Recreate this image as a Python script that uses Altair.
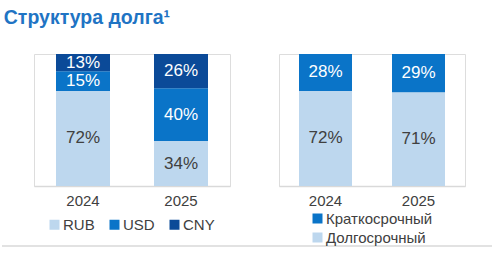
import altair as alt
import pandas as pd

years = ["2024", "2025"]
currencies = ["RUB", "USD", "CNY"]
rub = [72, 34]
usd = [15, 40]
cny = [13, 26]

terms = ["Краткосрочный", "Долгосрочный"]
short_term = [28, 29]
long_term = [72, 71]

title_text = "Структура долга¹"

LIGHT = "#bdd7ee"
MID = "#0a74c8"
DARK = "#0b4a98"
TXT = "#404040"
FONT = "Liberation Sans"

rows = []
for i, y in enumerate(years):
    for k, (c, vals) in enumerate(zip(currencies, [rub, usd, cny])):
        rows.append({"year": y, "cat": c, "val": vals[i], "ord": k})
df_cur = pd.DataFrame(rows)

rows2 = []
for i, y in enumerate(years):
    rows2.append({"year": y, "cat": terms[1], "val": long_term[i], "ord": 0})
    rows2.append({"year": y, "cat": terms[0], "val": short_term[i], "ord": 1})
df_term = pd.DataFrame(rows2)


def panel(df, domain, colors, width, bar_size, light_cat, legend):
    base = alt.Chart(df).transform_stack(
        stack="val", groupby=["year"], as_=["y0", "y1"],
        sort=[alt.SortField("ord", order="ascending")]
    ).transform_calculate(mid="(datum.y0 + datum.y1) / 2")
    xenc = alt.X("year:N", sort=years, title=None,
                 scale=alt.Scale(paddingInner=0, paddingOuter=0),
                 axis=alt.Axis(labelAngle=0, ticks=False, domainColor="#d9d9d9",
                               domainWidth=1.5, labelFontSize=15, labelColor=TXT,
                               labelFont=FONT, labelPadding=7, grid=False))
    yscale = alt.Scale(domain=[0, 100])
    bars = base.mark_bar(size=bar_size).encode(
        x=xenc,
        y=alt.Y("y0:Q", scale=yscale, axis=None),
        y2="y1:Q",
        color=alt.Color("cat:N", scale=alt.Scale(domain=domain, range=colors),
                        legend=legend),
    )
    labels = base.mark_text(fontSize=17, font=FONT).encode(
        x=alt.X("year:N", sort=years),
        y=alt.Y("mid:Q", scale=yscale),
        text=alt.Text("label:N"),
        color=alt.condition(f"datum.cat == '{light_cat}'", alt.value(TXT), alt.value("white")),
    ).transform_calculate(label="datum.val + '%'")
    return alt.layer(bars, labels).properties(width=width, height=132)


left_legend = alt.Legend(title=None, orient="none", direction="horizontal",
                         legendX=13, legendY=163, symbolType="square", symbolSize=100,
                         symbolStrokeWidth=0, labelFontSize=15, labelColor=TXT,
                         labelFont=FONT, columnPadding=12, labelOffset=1)
right_legend = alt.Legend(title=None, orient="none", direction="vertical",
                          legendX=31, legendY=157, symbolType="square", symbolSize=100,
                          symbolStrokeWidth=0, labelFontSize=15, labelColor=TXT,
                          labelFont=FONT, rowPadding=3, labelOffset=1)

left = panel(df_cur, currencies, [LIGHT, MID, DARK], 196, 54, "RUB", left_legend)
rule = alt.Chart(pd.DataFrame({"a": [0]})).mark_rule(color="#d9d9d9", strokeWidth=1.5).encode(
    x=alt.value(-32), x2=alt.value(458), y=alt.value(192))
left = alt.layer(left, rule)
right = panel(df_term, terms, [MID, LIGHT], 186, 53, terms[1], right_legend)

chart = alt.hconcat(left, right, spacing=49, bounds="flush").resolve_scale(
    color="independent", x="independent", y="independent"
).properties(
    title=alt.TitleParams(title_text, anchor="start", fontSize=19.5, font=FONT,
                          fontWeight="bold", color="#1f74c4", offset=25, dx=3)
).configure_view(stroke=None).configure(padding={"left": 0, "top": 7, "right": 0, "bottom": 0}, background="white")

chart.save("out.html", embed_options={"renderer": "svg", "actions": False})
